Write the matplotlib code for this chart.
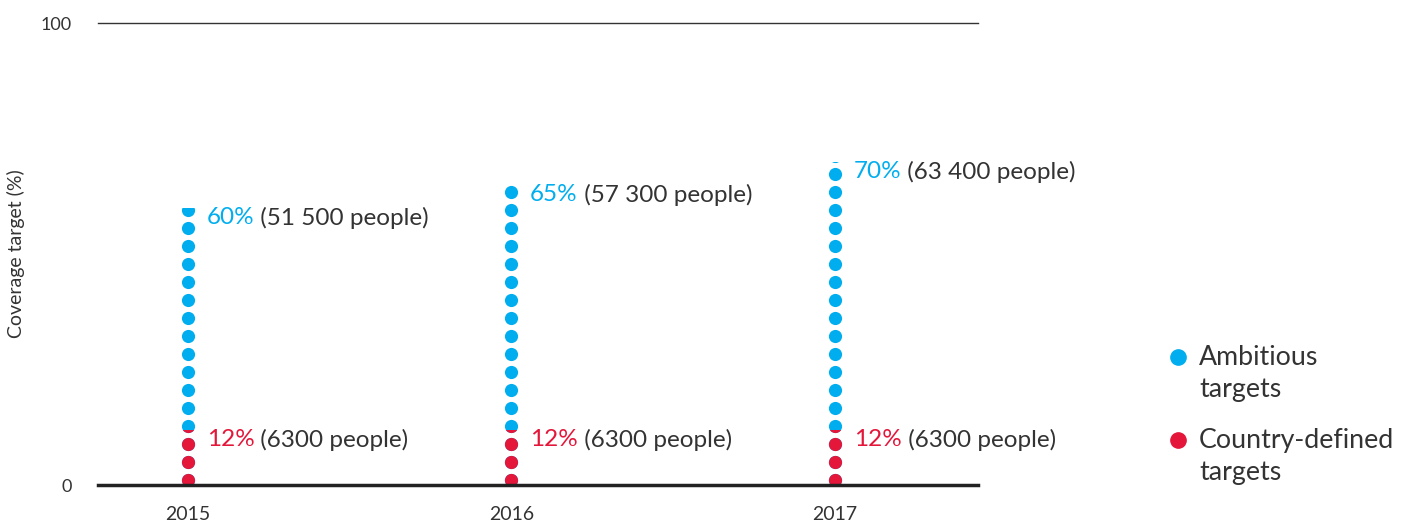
import numpy as np
import matplotlib
matplotlib.use('Agg')
import matplotlib.pyplot as plt
from matplotlib.patches import Rectangle
from matplotlib.lines import Line2D
from matplotlib.transforms import offset_copy

plt.rcParams['font.family'] = ['Lato', 'DejaVu Sans']

years = ['2015', '2016', '2017']
ambitious = [60, 65, 70]
country = [12, 12, 12]
ambitious_people = ['51 500', '57 300', '63 400']
country_people = ['6300', '6300', '6300']

BLUE = '#00aeef'
RED = '#e4163a'
TXT = '#333333'

fig = plt.figure(figsize=(14.11, 5.21), dpi=100)
ax = fig.add_axes([98 / 1411, 36 / 521, 880 / 1411, 462 / 521])
ax.set_xlim(-0.278, 2.442)
ax.set_ylim(0, 100)

# dot pattern used as a "bar" fill, clipped to each value
dot_y = 1.08 + 3.9 * np.arange(26)
dot_r = 1.4

fig.canvas.draw()
r = fig.canvas.get_renderer()

for i in range(len(years)):
    for vals, col in ((ambitious, BLUE), (country, RED)):
        v = vals[i]
        ys = dot_y[dot_y - dot_r < v]
        sc = ax.scatter(np.full(len(ys), i), ys, s=90, color=col,
                        linewidths=0, zorder=2)
        sc.set_clip_path(Rectangle((i - 0.5, 0), 1, v, transform=ax.transData))

    for v, col, people in ((ambitious[i], BLUE, ambitious_people[i]),
                           (country[i], RED, country_people[i])):
        t = ax.text(i + 0.058, v - 2.2, f'{v}%', color=col,
                    fontsize=17.5, va='center', ha='left')
        w = t.get_window_extent(r).width
        ax.text(i + 0.058, v - 2.2, f' ({people} people)', color=TXT,
                fontsize=17.5, va='center', ha='left',
                transform=offset_copy(ax.transData, fig=fig, x=w * 72 / fig.dpi,
                                      y=0, units='points'))

ax.axhline(0, color='#222222', lw=2.5, zorder=5, clip_on=False)
ax.axhline(100, color='#333333', lw=1, zorder=1, clip_on=False)

for s in ax.spines.values():
    s.set_visible(False)
ax.set_xticks(range(len(years)))
ax.set_xticklabels(years, fontsize=14, color=TXT)
ax.set_yticks([0, 100])
ax.set_yticklabels(['0', '100'], fontsize=13, color=TXT)
ax.tick_params(length=0)
ax.tick_params(axis='x', pad=15)
ax.tick_params(axis='y', pad=19)
ax.set_ylabel('Coverage target (%)', fontsize=14, color=TXT)
ax.yaxis.set_label_coords(-0.083, 0.5)

# legend
for (ym, label, col) in ((357, 'Ambitious\ntargets', BLUE),
                         (440, 'Country-defined\ntargets', RED)):
    fig.add_artist(Line2D([1178 / 1411], [1 - ym / 521], marker='o', ms=11,
                          color=col, lw=0, transform=fig.transFigure))
    fig.text(1199 / 1411, 1 - (ym + 16.5) / 521, label, fontsize=19.3, color=TXT,
             va='center', ha='left', linespacing=1.38)

fig.savefig('out.png', dpi=100)
